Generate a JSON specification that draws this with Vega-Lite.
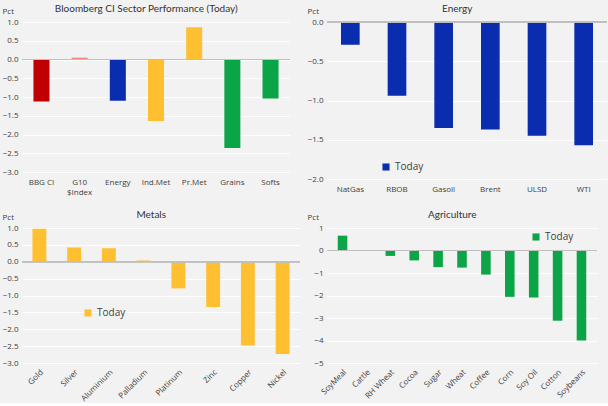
{
  "$schema": "https://vega.github.io/schema/vega-lite/v6.json",
  "background": "#f2f2f2",
  "padding": {"left": 2, "top": 4, "right": 0, "bottom": 0},
  "columns": 2,
  "spacing": {"column": 27, "row": 49},
  "bounds": "flush",
  "resolve": {"scale": {"x": "independent", "y": "independent", "color": "independent"}, "legend": {"color": "independent"}},
  "config": {
    "font": "Open Sans",
    "view": {"stroke": null},
    "title": {"font": "Lato", "fontSize": 10, "fontWeight": "normal", "color": "#333333", "offset": 0, "dy": 11, "anchor": "middle", "frame": "bounds"},
    "axis": {"labelFontSize": 8, "labelColor": "#404040", "titleFontSize": 8, "titleFontWeight": "normal", "titleColor": "#404040", "labelOverlap": false},
    "legend": {"labelFontSize": 10, "labelColor": "#404040", "symbolType": "square", "symbolSize": 50, "symbolStrokeWidth": 0}
  },
  "datasets": {
    "sector": [
      {"name": "BBG CI", "pct": -1.12, "grp": "BBG CI"},
      {"name": "G10 $Index", "pct": 0.05, "grp": "G10"},
      {"name": "Energy", "pct": -1.10, "grp": "Energy"},
      {"name": "Ind.Met", "pct": -1.64, "grp": "Metals"},
      {"name": "Pr.Met", "pct": 0.86, "grp": "Metals"},
      {"name": "Grains", "pct": -2.36, "grp": "Ags"},
      {"name": "Softs", "pct": -1.04, "grp": "Ags"}
    ],
    "energy": [
      {"name": "NatGas", "pct": -0.29, "series": "Today"},
      {"name": "RBOB", "pct": -0.94, "series": "Today"},
      {"name": "Gasoil", "pct": -1.35, "series": "Today"},
      {"name": "Brent", "pct": -1.37, "series": "Today"},
      {"name": "ULSD", "pct": -1.45, "series": "Today"},
      {"name": "WTI", "pct": -1.57, "series": "Today"}
    ],
    "metals": [
      {"name": "Gold", "pct": 0.98, "series": "Today"},
      {"name": "Silver", "pct": 0.42, "series": "Today"},
      {"name": "Aluminium", "pct": 0.40, "series": "Today"},
      {"name": "Palladium", "pct": 0.04, "series": "Today"},
      {"name": "Platinum", "pct": -0.79, "series": "Today"},
      {"name": "Zinc", "pct": -1.34, "series": "Today"},
      {"name": "Copper", "pct": -2.48, "series": "Today"},
      {"name": "Nickel", "pct": -2.73, "series": "Today"}
    ],
    "ags": [
      {"name": "SoyMeal", "pct": 0.66, "series": "Today"},
      {"name": "Cattle", "pct": 0.0, "series": "Today"},
      {"name": "RH Wheat", "pct": -0.24, "series": "Today"},
      {"name": "Cocoa", "pct": -0.44, "series": "Today"},
      {"name": "Sugar", "pct": -0.74, "series": "Today"},
      {"name": "Wheat", "pct": -0.76, "series": "Today"},
      {"name": "Coffee", "pct": -1.07, "series": "Today"},
      {"name": "Corn", "pct": -2.06, "series": "Today"},
      {"name": "Soy Oil", "pct": -2.09, "series": "Today"},
      {"name": "Cotton", "pct": -3.12, "series": "Today"},
      {"name": "Soybeans", "pct": -4.0, "series": "Today"}
    ]
  },
  "concat": [
    {
      "title": "Bloomberg  CI Sector Performance  (Today)",
      "width": 268, "height": 150,
      "data": {"name": "sector"},
      "encoding": {
        "y": {"field": "pct", "type": "quantitative",
              "scale": {"domain": [-3, 1], "nice": false},
              "axis": {"title": "Pct", "titleAngle": 0, "titleAnchor": "end", "titleAlign": "left", "titleBaseline": "bottom",
                       "titleX": -20, "titleY": -7, "format": ".1f", "values": [1, 0.5, 0, -0.5, -1, -1.5, -2, -2.5, -3],
                       "domain": false, "ticks": false, "gridColor": "#ffffff", "gridWidth": 1, "labelPadding": 4}}
      },
      "layer": [
        {
          "mark": {"type": "bar"},
          "encoding": {
            "x": {"field": "name", "type": "nominal", "sort": null,
                  "scale": {"paddingInner": 0.58, "paddingOuter": 0.3},
                  "axis": {"title": null, "labelAngle": 0, "domain": false, "ticks": false, "labelPadding": 6,
                           "labelExpr": "datum.value == 'G10 $Index' ? ['G10', '$Index'] : datum.value"}},
            "color": {"field": "grp", "type": "nominal", "legend": null,
                      "scale": {"domain": ["BBG CI", "G10", "Energy", "Metals", "Ags"],
                                "range": ["#c00000", "#f08a8a", "#0a2db0", "#fec030", "#0ba548"]}}
          }
        },
        {"mark": {"type": "rule", "color": "#bfbfbf"}, "encoding": {"y": {"datum": 0}}}
      ]
    },
    {
      "title": "Energy",
      "width": 280, "height": 157,
      "data": {"name": "energy"},
      "encoding": {
        "y": {"field": "pct", "type": "quantitative",
              "scale": {"domain": [-2, 0], "nice": false},
              "axis": {"title": "Pct", "titleAngle": 0, "titleAnchor": "end", "titleAlign": "left", "titleBaseline": "bottom",
                       "titleX": -20, "titleY": -7, "format": ".1f", "values": [0, -0.5, -1, -1.5, -2],
                       "domain": false, "ticks": false, "gridColor": "#ffffff", "labelPadding": 4}}
      },
      "layer": [
        {
          "mark": {"type": "bar"},
          "encoding": {
            "x": {"field": "name", "type": "nominal", "sort": null,
                  "scale": {"paddingInner": 0.6, "paddingOuter": 0.3},
                  "axis": {"title": null, "labelAngle": 0, "domain": false, "ticks": false, "labelPadding": 6}},
            "color": {"field": "series", "type": "nominal",
                      "scale": {"range": ["#0a2db0"]},
                      "legend": {"title": null, "orient": "none", "legendX": 54, "legendY": 140}}
          }
        },
        {"mark": {"type": "rule", "color": "#bfbfbf"}, "encoding": {"y": {"datum": 0}}}
      ]
    },
    {
      "title": "Metals",
      "width": 278, "height": 135,
      "data": {"name": "metals"},
      "encoding": {
        "y": {"field": "pct", "type": "quantitative",
              "scale": {"domain": [-3, 1], "nice": false},
              "axis": {"title": "Pct", "titleAngle": 0, "titleAnchor": "end", "titleAlign": "left", "titleBaseline": "bottom",
                       "titleX": -20, "titleY": -7, "format": ".1f", "values": [1, 0.5, 0, -0.5, -1, -1.5, -2, -2.5, -3],
                       "domain": false, "ticks": false, "gridColor": "#ffffff", "labelPadding": 4}}
      },
      "layer": [
        {
          "mark": {"type": "bar"},
          "encoding": {
            "x": {"field": "name", "type": "nominal", "sort": null,
                  "scale": {"paddingInner": 0.6, "paddingOuter": 0.3},
                  "axis": {"title": null, "labelAngle": -45, "domain": false, "ticks": false, "labelPadding": 5}},
            "color": {"field": "series", "type": "nominal",
                      "scale": {"range": ["#fec030"]},
                      "legend": {"title": null, "orient": "none", "legendX": 61, "legendY": 80}}
          }
        },
        {"mark": {"type": "rule", "color": "#bfbfbf"}, "encoding": {"y": {"datum": 0}}}
      ]
    },
    {
      "title": "Agriculture",
      "width": 270, "height": 135,
      "data": {"name": "ags"},
      "encoding": {
        "y": {"field": "pct", "type": "quantitative",
              "scale": {"domain": [-5, 1], "nice": false},
              "axis": {"title": "Pct", "titleAngle": 0, "titleAnchor": "end", "titleAlign": "left", "titleBaseline": "bottom",
                       "titleX": -20, "titleY": -7, "format": "d", "values": [1, 0, -1, -2, -3, -4, -5],
                       "domain": false, "ticks": false, "gridColor": "#ffffff", "labelPadding": 4}}
      },
      "layer": [
        {
          "mark": {"type": "bar"},
          "encoding": {
            "x": {"field": "name", "type": "nominal", "sort": null,
                  "scale": {"paddingInner": 0.6, "paddingOuter": 0.45},
                  "axis": {"title": null, "labelAngle": -45, "domain": false, "ticks": false, "labelPadding": 5}},
            "color": {"field": "series", "type": "nominal",
                      "scale": {"range": ["#0ba548"]},
                      "legend": {"title": null, "orient": "none", "legendX": 204, "legendY": 4}}
          }
        },
        {"mark": {"type": "rule", "color": "#bfbfbf"}, "encoding": {"y": {"datum": 0}}}
      ]
    }
  ]
}
